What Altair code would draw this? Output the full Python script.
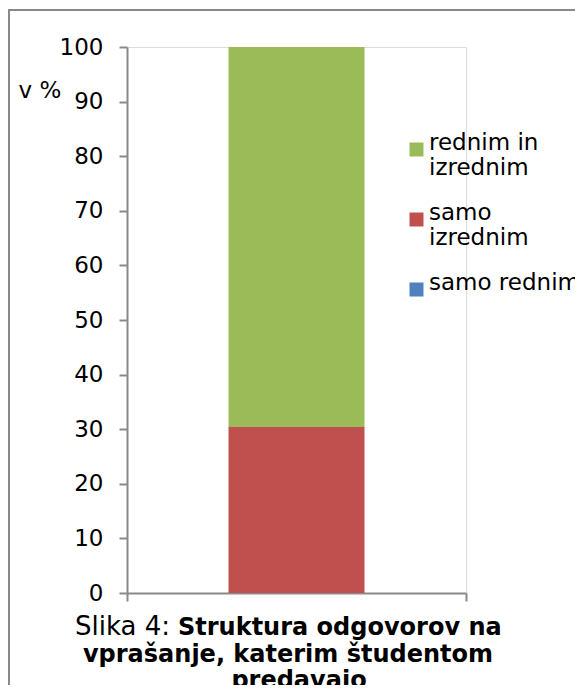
import altair as alt
import pandas as pd

# --- data ---
categories = ["samo rednim", "samo izrednim", "rednim in izrednim"]
values = [0.0, 30.4, 69.6]
stack_order = [0, 1, 2]
legend_order = ["rednim in izrednim", "samo izrednim", "samo rednim"]
colors = ["#9BBB59", "#C0504D", "#4F81BD"]
y_ticks = [0, 10, 20, 30, 40, 50, 60, 70, 80, 90, 100]
y_title = "v %"
caption_prefix = "Slika 4:"
caption_bold = ["Struktura odgovorov na", "vprašanje, katerim študentom", "predavajo"]

FONT = "DejaVu Sans"
GRAY = "#898989"

df = pd.DataFrame({"x": [""] * 3, "kategorija": categories,
                   "delez": values, "ord": stack_order})
one = pd.DataFrame({"k": [0]})

bars = alt.Chart(df).mark_bar(size=136).encode(
    x=alt.X("x:N",
            scale=alt.Scale(paddingInner=0, paddingOuter=0),
            axis=alt.Axis(title=None, labels=False, tickBand="extent",
                          domainColor=GRAY, domainWidth=2, tickColor=GRAY,
                          tickWidth=2, tickSize=8)),
    y=alt.Y("delez:Q", stack="zero",
            scale=alt.Scale(domain=[0, 100], nice=False),
            axis=alt.Axis(values=y_ticks, title=y_title, titleAngle=0,
                          titleAlign="left", titleBaseline="alphabetic",
                          titleX=-109, titleY=50, titleFont=FONT,
                          titleFontSize=23, titleFontWeight="normal",
                          titleColor="#000000",
                          labelFont=FONT, labelFontSize=23, labelColor="#000000",
                          labelPadding=16, tickSize=8, tickColor=GRAY,
                          tickWidth=2, domainColor=GRAY, domainWidth=2,
                          grid=False)),
    color=alt.Color("kategorija:N",
                    scale=alt.Scale(domain=legend_order, range=colors),
                    legend=alt.Legend(
                        title=None, orient="none", legendX=278, legendY=91,
                        symbolType="square", symbolSize=196,
                        symbolStrokeWidth=0, labelFont=FONT,
                        labelFontSize=23, labelColor="#000000",
                        labelBaseline="alphabetic", labelLimit=400,
                        labelOffset=1, rowPadding=21, padding=0,
                        labelExpr="datum.label == 'rednim in izrednim' ? ['rednim in', 'izrednim'] : datum.label == 'samo izrednim' ? ['samo', 'izrednim'] : datum.label")),
    order=alt.Order("ord:Q", sort="ascending"),
)

cap1a = alt.Chart(one).mark_text(font=FONT, fontSize=26, align="left",
                                 baseline="alphabetic", color="#000000").encode(
    x=alt.value(-52), y=alt.value(588), text=alt.value(caption_prefix))
cap1b = alt.Chart(one).mark_text(font=FONT, fontSize=24, fontWeight="bold",
                                 align="left", baseline="alphabetic",
                                 color="#000000").encode(
    x=alt.value(51), y=alt.value(588), text=alt.value(caption_bold[0]))
cap2 = alt.Chart(one).mark_text(font=FONT, fontSize=24, fontWeight="bold",
                                align="center", baseline="alphabetic",
                                color="#000000").encode(
    x=alt.value(161), y=alt.value(615), text=alt.value(caption_bold[1]))
cap3 = alt.Chart(one).mark_text(font=FONT, fontSize=24, fontWeight="bold",
                                align="center", baseline="alphabetic",
                                color="#000000").encode(
    x=alt.value(172), y=alt.value(641), text=alt.value(caption_bold[2]))

frame_left = alt.Chart(one).mark_rule(color=GRAY, strokeWidth=2).encode(
    x=alt.value(-118), y=alt.value(-38), y2=alt.value(660))
frame_top = alt.Chart(one).mark_rule(color=GRAY, strokeWidth=2).encode(
    x=alt.value(-119), x2=alt.value(600), y=alt.value(-37))
outer_left = alt.Chart(one).mark_rule(color=GRAY, strokeWidth=1.5).encode(
    x=alt.value(-120.5), y=alt.value(-33.5), y2=alt.value(660))
outer_top = alt.Chart(one).mark_rule(color=GRAY, strokeWidth=1.5).encode(
    x=alt.value(-130), x2=alt.value(-120.5), y=alt.value(-33.5))

chart = alt.layer(
    frame_left, frame_top, outer_left, outer_top,
    bars, cap1a, cap1b, cap2, cap3
).properties(
    width=339, height=546,
    autosize=alt.AutoSizeParams(type="none"),
    padding={"left": 119, "top": 39, "right": 109, "bottom": 92},
).configure_view(stroke=None).configure(background="#ffffff")

chart.save("out.html", embed_options={"renderer": "svg", "actions": False})
